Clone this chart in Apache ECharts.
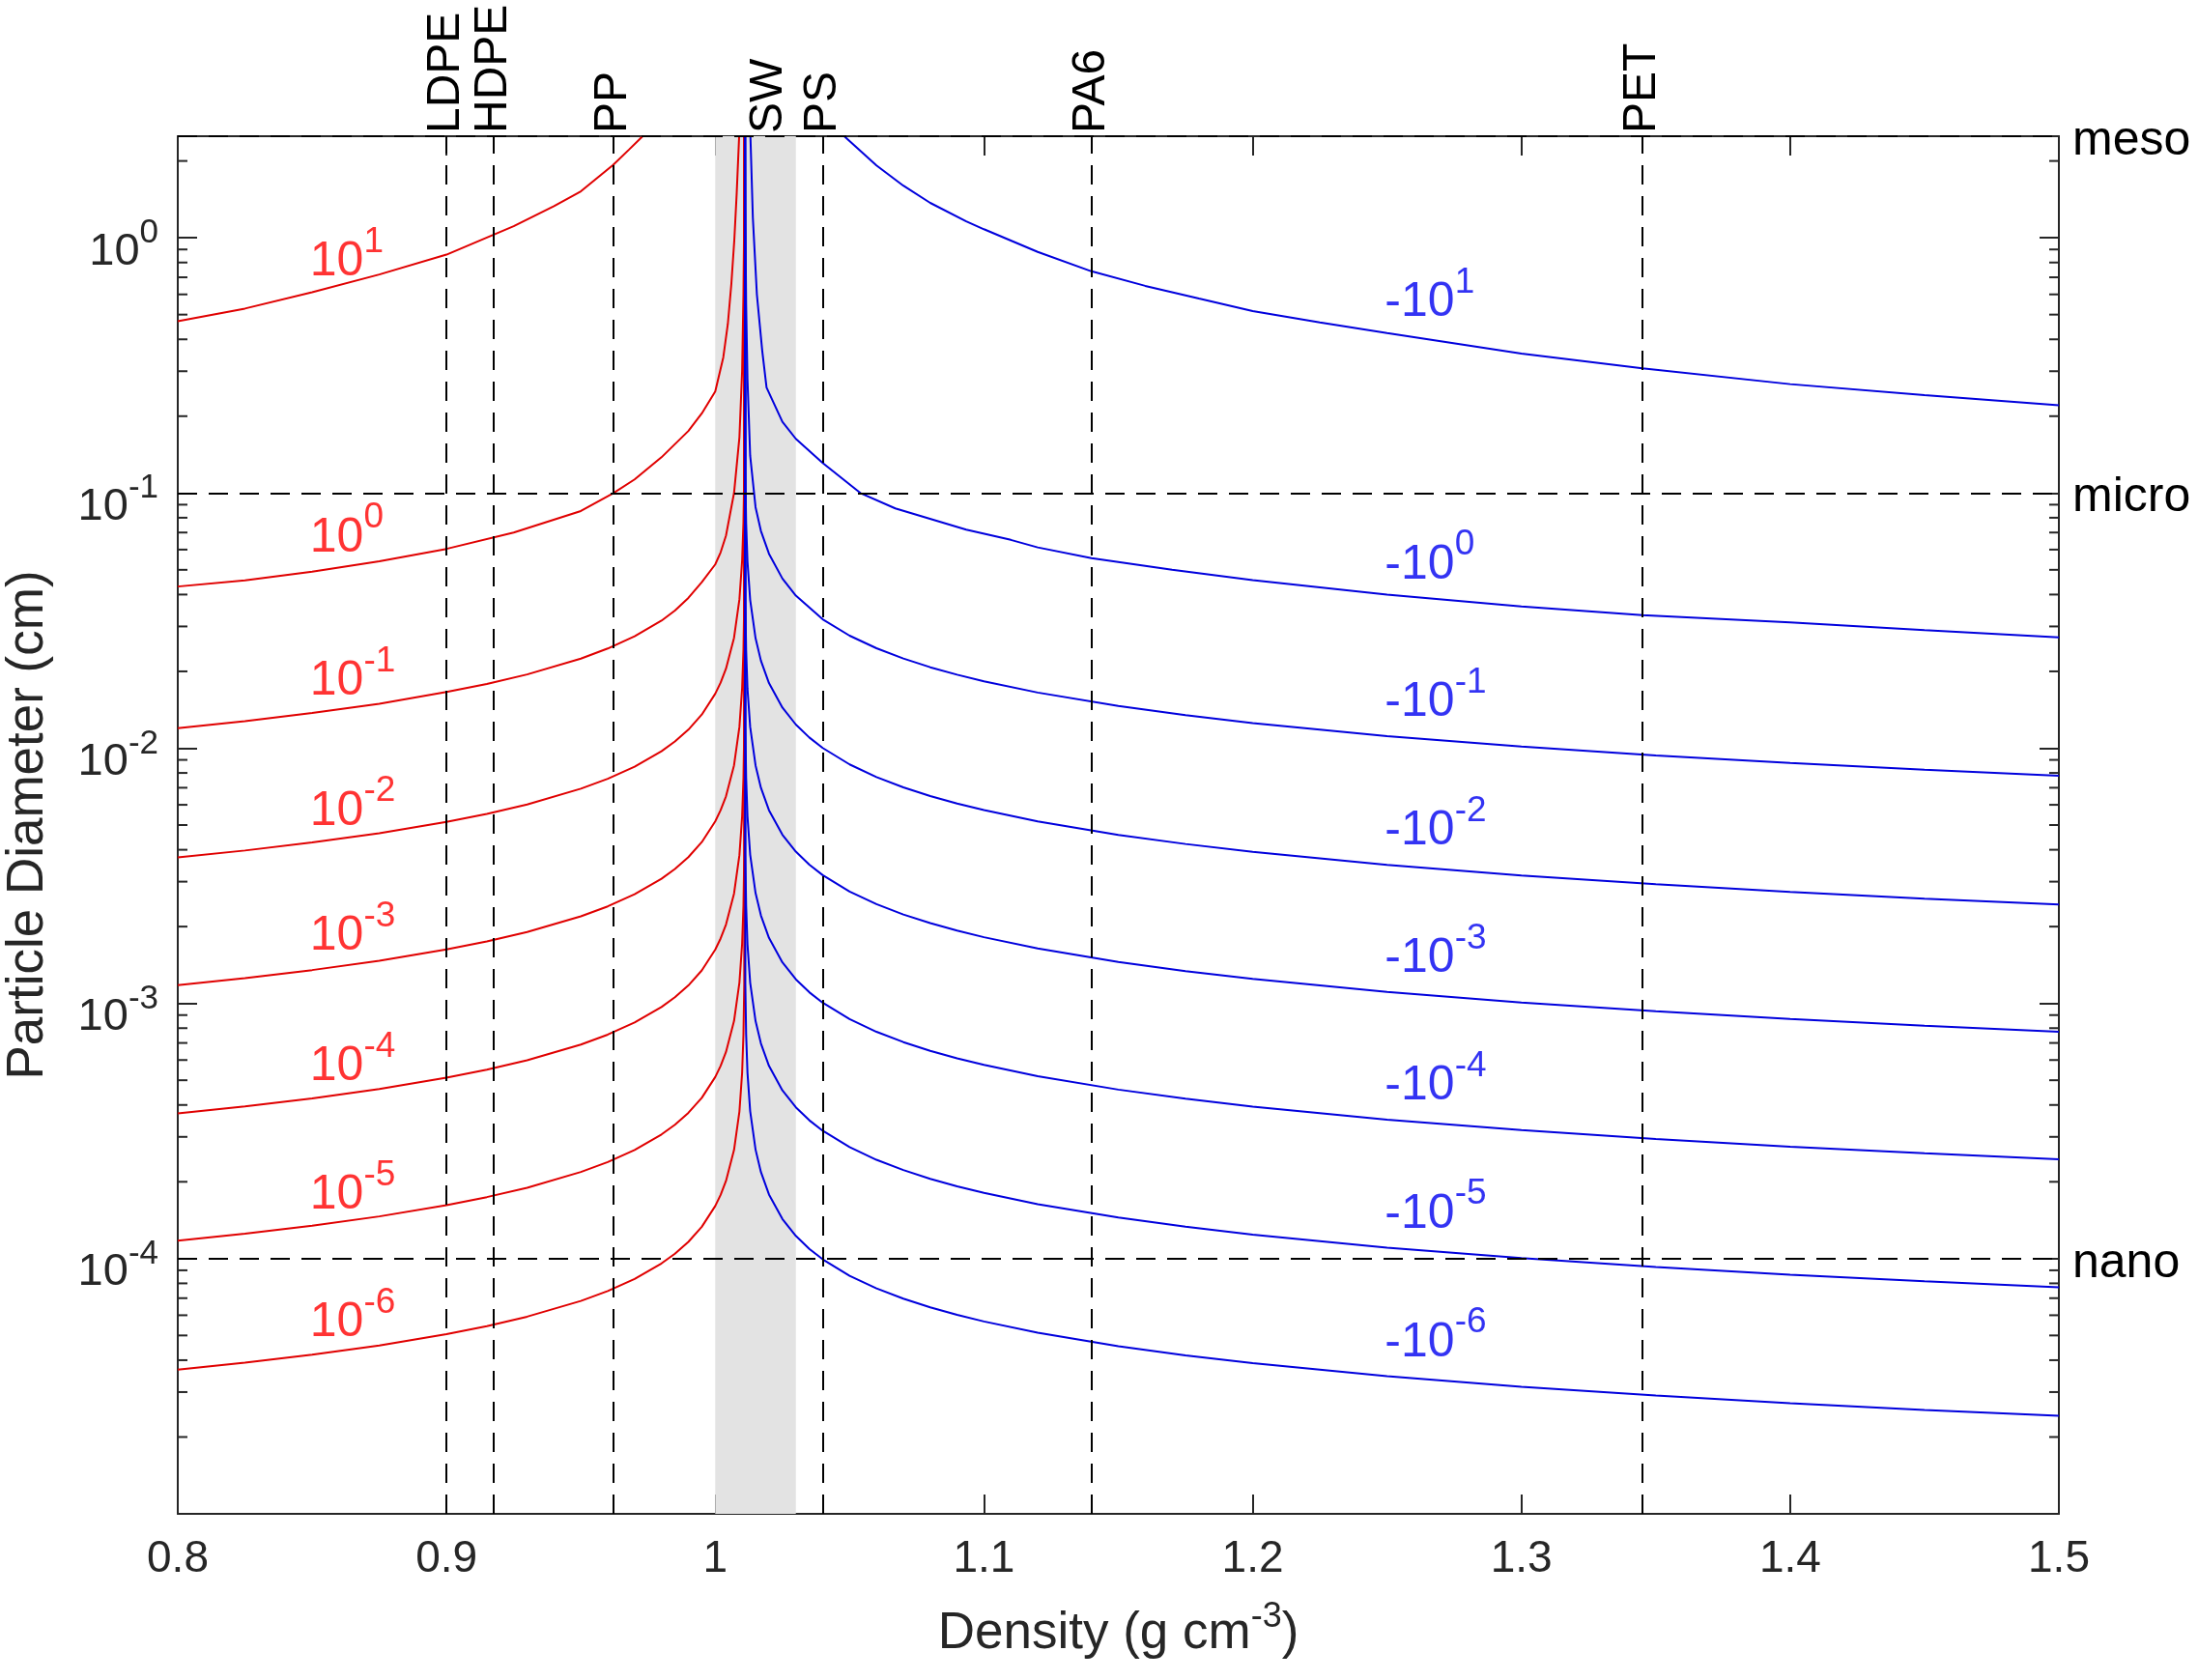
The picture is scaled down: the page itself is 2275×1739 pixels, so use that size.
<!DOCTYPE html>
<html><head><meta charset="utf-8">
<script src="https://cdn.jsdelivr.net/npm/echarts@6/dist/echarts.min.js"></script>
<style>html,body{margin:0;padding:0;background:#fff}#c{width:2275px;height:1739px}</style>
</head><body><div id="c"></div>
<script>
const FONT = '"Liberation Sans", Arial, Helvetica, sans-serif';
const AX = '#262626';
const RED_LINE = '#e00000', BLUE_LINE = '#0000dd';
const RED_TEXT = '#ff0000', BLUE_TEXT = '#0000f0';

// axes
const xMin = 0.8, xMax = 1.5, xStep = 0.1;
const yMin = 1e-5, yMax = 2.5;
const yLabelExponents = [0, -1, -2, -3, -4];

// material densities (top axis) and reference lines
const materialNames = ['LDPE', 'HDPE', 'PP', 'SW', 'PS', 'PA6', 'PET'];
const materialDensity = [0.9, 0.9175, 0.962, 1.02, 1.04, 1.14, 1.345];
const densityLines = [0.9, 0.9175, 0.962, 1.04, 1.14, 1.345];
const swBand = [1.0, 1.03];
const sizeClassNames = ['meso', 'micro', 'nano'];
const sizeClassValues = [2.5, 0.1, 1e-4];

// ---- red curves (rising, w > 0) ----
const redRho_p1 = [0.80, 0.825, 0.85, 0.875, 0.90, 0.925, 0.94, 0.95, 0.962, 0.968, 0.973];
const redD_p1   = [0.471, 0.528, 0.612, 0.718, 0.859, 1.11, 1.33, 1.52, 1.93, 2.22, 2.5];
const redRho_p0 = [0.80, 0.825, 0.85, 0.875, 0.90, 0.925, 0.95, 0.962, 0.97, 0.98, 0.99, 0.995, 1.0, 1.003, 1.0047, 1.006, 1.0071, 1.008, 1.0089];
const redD_p0   = [0.043, 0.0455, 0.0492, 0.054, 0.0604, 0.070, 0.085, 0.0997, 0.113, 0.138, 0.175, 0.205, 0.25, 0.34, 0.46, 0.66, 0.98, 1.5, 2.5];
const redRho    = [0.80, 0.825, 0.85, 0.875, 0.90, 0.915, 0.93, 0.95, 0.96, 0.97, 0.98, 0.985, 0.99, 0.995, 1.0, 1.002, 1.004, 1.007, 1.009, 1.010, 1.0105, 1.0108, 1.0109];
const redD_m1 = [0.01198, 0.01276, 0.01375, 0.01494, 0.0166, 0.01785, 0.01945, 0.02245, 0.02458, 0.02745, 0.0316, 0.0346, 0.0388, 0.0447, 0.0525, 0.0585, 0.068, 0.100, 0.165, 0.30, 0.60, 1.3, 2.5];
const redD_m2 = [3.73e-3, 3.973e-3, 4.27e-3, 4.646e-3, 5.14e-3, 5.53e-3, 6.02e-3, 6.94e-3, 7.587e-3, 8.46e-3, 9.73e-3, 1.0627e-2, 1.182e-2, 1.354e-2, 1.634e-2, 1.806e-2, 2.048e-2, 2.709e-2, 3.83e-2, 5.42e-2, 7.66e-2, 0.1212, 2.5];
const redD_m3 = [1.18e-3, 1.257e-3, 1.351e-3, 1.47e-3, 1.627e-3, 1.749e-3, 1.905e-3, 2.195e-3, 2.4e-3, 2.677e-3, 3.079e-3, 3.362e-3, 3.741e-3, 4.285e-3, 5.168e-3, 5.714e-3, 6.478e-3, 8.57e-3, 1.212e-2, 1.715e-2, 2.424e-2, 3.835e-2, 2.5];
const redD_m4 = [3.71e-4, 3.952e-4, 4.247e-4, 4.621e-4, 5.115e-4, 5.5e-4, 5.988e-4, 6.901e-4, 7.546e-4, 8.417e-4, 9.679e-4, 1.057e-3, 1.176e-3, 1.347e-3, 1.625e-3, 1.796e-3, 2.037e-3, 2.695e-3, 3.81e-3, 5.391e-3, 7.62e-3, 1.206e-2, 2.5];
const redD_m5 = [1.175e-4, 1.2515e-4, 1.345e-4, 1.4636e-4, 1.62e-4, 1.742e-4, 1.896e-4, 2.186e-4, 2.39e-4, 2.666e-4, 3.066e-4, 3.348e-4, 3.725e-4, 4.266e-4, 5.147e-4, 5.689e-4, 6.451e-4, 8.534e-4, 1.207e-3, 1.707e-3, 2.413e-3, 3.819e-3, 2.5];
const redD_m6 = [3.67e-5, 3.909e-5, 4.201e-5, 4.571e-5, 5.06e-5, 5.441e-5, 5.923e-5, 6.826e-5, 7.465e-5, 8.326e-5, 9.575e-5, 1.0456e-4, 1.163e-4, 1.333e-4, 1.607e-4, 1.777e-4, 2.015e-4, 2.666e-4, 3.769e-4, 5.333e-4, 7.538e-4, 1.193e-3, 2.5];

// ---- blue curves (sinking, w < 0) ----
const blueRho_p1 = [1.048, 1.06, 1.07, 1.08, 1.0934, 1.1, 1.12, 1.14, 1.16, 1.18, 1.2, 1.225, 1.25, 1.3, 1.345, 1.4, 1.45, 1.5];
const blueD_p1   = [2.5, 1.92, 1.60, 1.37, 1.16, 1.08, 0.88, 0.739, 0.648, 0.578, 0.516, 0.466, 0.423, 0.352, 0.308, 0.267, 0.242, 0.2205];
const blueRho_p0 = [1.0131, 1.014, 1.0155, 1.0175, 1.0191, 1.025, 1.03, 1.04, 1.054, 1.067, 1.0934, 1.11, 1.12, 1.14, 1.17, 1.2, 1.25, 1.3, 1.345, 1.4, 1.45, 1.5];
const blueD_p0   = [2.5, 1.2, 0.6, 0.36, 0.259, 0.19, 0.163, 0.131, 0.100, 0.087, 0.0718, 0.0655, 0.0612, 0.0556, 0.050, 0.0456, 0.0400, 0.0359, 0.0332, 0.0311, 0.0290, 0.0272];
const blueRho = [1.0111, 1.0112, 1.0115, 1.012, 1.013, 1.015, 1.017, 1.02, 1.025, 1.03, 1.035, 1.04, 1.05, 1.06, 1.07, 1.08, 1.09, 1.1, 1.12, 1.15, 1.175, 1.2, 1.25, 1.3, 1.35, 1.4, 1.45, 1.5];
const blueD_m1 = [2.5, 1.3, 0.55, 0.28, 0.14, 0.088, 0.071, 0.0578, 0.0462, 0.0396, 0.0356, 0.032, 0.0276, 0.02464, 0.02246, 0.02076, 0.01941, 0.01828, 0.01652, 0.01463, 0.01347, 0.01255, 0.01116, 0.01015, 0.00937, 0.00875, 0.00823, 0.0078];
const blueD_m2 = [2.5, 0.1205, 7.63e-2, 5.395e-2, 3.816e-2, 2.699e-2, 2.203e-2, 1.799e-2, 1.442e-2, 1.2378e-2, 1.1014e-2, 1.0019e-2, 8.64e-3, 7.708e-3, 7.025e-3, 6.495e-3, 6.071e-3, 5.719e-3, 5.168e-3, 4.576e-3, 4.214e-3, 3.925e-3, 3.49e-3, 3.174e-3, 2.93e-3, 2.736e-3, 2.575e-3, 2.44e-3];
const blueD_m3 = [2.5, 3.829e-2, 2.423e-2, 1.7135e-2, 1.2121e-2, 8.572e-3, 6.997e-3, 5.713e-3, 4.58e-3, 3.932e-3, 3.498e-3, 3.182e-3, 2.744e-3, 2.448e-3, 2.231e-3, 2.063e-3, 1.928e-3, 1.817e-3, 1.641e-3, 1.454e-3, 1.338e-3, 1.247e-3, 1.109e-3, 1.008e-3, 9.31e-4, 8.69e-4, 8.18e-4, 7.75e-4];
const blueD_m4 = [2.5, 1.2103e-2, 7.661e-3, 5.417e-3, 3.832e-3, 2.71e-3, 2.212e-3, 1.806e-3, 1.448e-3, 1.243e-3, 1.106e-3, 1.006e-3, 8.675e-4, 7.74e-4, 7.054e-4, 6.522e-4, 6.096e-4, 5.743e-4, 5.189e-4, 4.595e-4, 4.231e-4, 3.941e-4, 3.504e-4, 3.187e-4, 2.942e-4, 2.747e-4, 2.586e-4, 2.45e-4];
const blueD_m5 = [2.5, 3.814e-3, 2.414e-3, 1.7069e-3, 1.2074e-3, 8.538e-4, 6.9696e-4, 5.6904e-4, 4.5625e-4, 3.9164e-4, 3.485e-4, 3.1698e-4, 2.7337e-4, 2.4387e-4, 2.223e-4, 2.0551e-4, 1.921e-4, 1.8096e-4, 1.635e-4, 1.448e-4, 1.333e-4, 1.2418e-4, 1.1043e-4, 1.0042e-4, 9.272e-5, 8.656e-5, 8.148e-5, 7.72e-5];
const blueD_m6 = [2.5, 1.1955e-3, 7.567e-4, 5.351e-4, 3.785e-4, 2.6765e-4, 2.1848e-4, 1.7838e-4, 1.4302e-4, 1.2277e-4, 1.0924e-4, 9.937e-5, 8.569e-5, 7.645e-5, 6.967e-5, 6.442e-5, 6.021e-5, 5.672e-5, 5.126e-5, 4.539e-5, 4.179e-5, 3.893e-5, 3.462e-5, 3.148e-5, 2.906e-5, 2.713e-5, 2.554e-5, 2.42e-5];

// ---- curve labels ----
const labelExponents = [1, 0, -1, -2, -3, -4, -5, -6];
const redLabelX = 0.849;
const redLabelY = [0.84, 0.0695, 0.0191, 5.9e-3, 1.91e-3, 5.9e-4, 1.85e-4, 5.85e-5];
const blueLabelX = 1.249;
const blueLabelY = [0.582, 0.0546, 0.01577, 4.95e-3, 1.563e-3, 4.95e-4, 1.56e-4, 4.9e-5];

// minor log ticks (2..9 per decade)
const minorTickValues = [];
for (let k = -5; k <= 0; k++) for (let m = 2; m <= 9; m++) { const v = m * Math.pow(10, k); if (v < yMax) minorTickValues.push(v); }

const zip = (xs, ys) => xs.map((x, i) => [x, ys[i]]);
const curves = [
  [redRho_p1, redD_p1, RED_LINE], [redRho_p0, redD_p0, RED_LINE],
  [redRho, redD_m1, RED_LINE], [redRho, redD_m2, RED_LINE], [redRho, redD_m3, RED_LINE],
  [redRho, redD_m4, RED_LINE], [redRho, redD_m5, RED_LINE], [redRho, redD_m6, RED_LINE],
  [blueRho_p1, blueD_p1, BLUE_LINE], [blueRho_p0, blueD_p0, BLUE_LINE],
  [blueRho, blueD_m1, BLUE_LINE], [blueRho, blueD_m2, BLUE_LINE], [blueRho, blueD_m3, BLUE_LINE],
  [blueRho, blueD_m4, BLUE_LINE], [blueRho, blueD_m5, BLUE_LINE], [blueRho, blueD_m6, BLUE_LINE]
];

// superscript rich text: base bottom-aligned, superscript top-aligned in a taller line
const supRich = (size, supSize, lineH, supTop, color) => ({
  b: { fontSize: size, lineHeight: size, verticalAlign: 'bottom', fontFamily: FONT, color: color },
  s: { fontSize: supSize, lineHeight: lineH, padding: [supTop, 0, 0, 0], verticalAlign: 'top', fontFamily: FONT, color: color }
});

const series = [];
series.push({
  type: 'line', data: [], z: 1, silent: true,
  markArea: { silent: true, itemStyle: { color: '#e3e3e3' }, data: [[{ xAxis: swBand[0] }, { xAxis: swBand[1] }]] }
});
curves.forEach(([xs, ys, col]) => series.push({
  type: 'line', data: zip(xs, ys), showSymbol: false, symbol: 'none', z: 2, silent: true,
  lineStyle: { color: col, width: 2 }, clip: true
}));
series.push({
  type: 'line', data: [], z: 4, silent: true,
  markLine: {
    silent: true, symbol: ['none', 'none'], label: { show: false }, precision: 6,
    lineStyle: { color: '#000', width: 2, type: [20, 12] },
    data: densityLines.map(x => ({ xAxis: x })).concat(sizeClassValues.map(y => ({ yAxis: y })))
  }
});
const makeLabels = (x, ys, prefix, color) => ({
  type: 'scatter', z: 5, silent: true, symbolSize: 1, itemStyle: { color: 'rgba(0,0,0,0)' },
  data: ys.map((y, i) => ({ value: [x, y], name: prefix + '10^' + labelExponents[i] })),
  label: {
    show: true, position: 'right', distance: 0, offset: [0, -4],
    formatter: p => '{b|' + prefix + '10}{s|' + labelExponents[p.dataIndex] + '}',
    rich: supRich(50, 37, 68.5, 4, color)
  }
});
series.push(makeLabels(redLabelX, redLabelY, '', RED_TEXT));
series.push(makeLabels(blueLabelX, blueLabelY, '-', BLUE_TEXT));
series.push({
  type: 'custom', z: 6, silent: true,
  data: minorTickValues.map(v => [xMin, v]),
  renderItem: (params, api) => {
    const v = api.value(1);
    const a = api.coord([xMin, v]);
    const b = api.coord([xMax, v]);
    return { type: 'group', children: [
      { type: 'line', shape: { x1: a[0], y1: a[1], x2: a[0] + 10, y2: a[1] }, style: { stroke: AX, lineWidth: 2 } },
      { type: 'line', shape: { x1: b[0] - 10, y1: b[1], x2: b[0], y2: b[1] }, style: { stroke: AX, lineWidth: 2 } }
    ] };
  }
});

const axisLineStyle = { show: true, lineStyle: { color: AX, width: 2 } };
const tickStyle = { show: true, inside: true, length: 20, lineStyle: { color: AX, width: 2 } };

const option = {
  animation: false,
  backgroundColor: '#fff',
  grid: { left: 184, right: 144, top: 141, bottom: 172, containLabel: false, outerBoundsMode: 'none' },
  xAxis: [{
    type: 'value', position: 'bottom', min: xMin, max: xMax, interval: xStep,
    axisLine: axisLineStyle, axisTick: tickStyle, splitLine: { show: false },
    axisLabel: { fontSize: 46, color: AX, fontFamily: FONT, margin: 24 },
    name: '{n|Density (g cm}{s|-3}{n|)}', nameLocation: 'middle', nameGap: 98,
    nameTextStyle: { rich: {
      n: { fontSize: 53, lineHeight: 53, verticalAlign: 'bottom', fontFamily: FONT, color: AX },
      s: { fontSize: 36, lineHeight: 36, padding: [0, 0, 26, 0], verticalAlign: 'bottom', fontFamily: FONT, color: AX }
    } }
  }, {
    type: 'value', position: 'top', min: xMin, max: xMax, interval: xStep,
    axisLine: axisLineStyle, axisTick: tickStyle, splitLine: { show: false },
    axisLabel: {
      customValues: materialDensity, rotate: -90, margin: 3, fontSize: 48, color: '#000', fontFamily: FONT,
      formatter: v => { const i = materialDensity.findIndex(d => Math.abs(d - v) < 1e-6); return i >= 0 ? materialNames[i] : ''; }
    }
  }],
  yAxis: [{
    type: 'log', logBase: 10, position: 'left', min: yMin, max: yMax,
    axisLine: axisLineStyle, axisTick: tickStyle, splitLine: { show: false }, minorTick: { show: false },
    axisLabel: {
      margin: 20, fontSize: 47, color: AX, fontFamily: FONT,
      formatter: v => {
        const l = Math.log10(v); const e = Math.round(l);
        if (Math.abs(l - e) > 1e-6 || yLabelExponents.indexOf(e) < 0) return '';
        return '{b|10}{s|' + e + '}';
      },
      rich: supRich(47, 35, 76, 16, AX)
    },
    name: 'Particle Diameter (cm)', nameLocation: 'middle', nameGap: 128,
    nameTextStyle: { fontSize: 53, color: AX, fontFamily: FONT }
  }, {
    type: 'log', logBase: 10, position: 'right', min: yMin, max: yMax,
    axisLine: axisLineStyle, axisTick: tickStyle, splitLine: { show: false },
    axisLabel: {
      customValues: sizeClassValues, margin: 14, fontSize: 50, color: '#000', fontFamily: FONT,
      formatter: v => { const i = sizeClassValues.findIndex(s => Math.abs(s - v) / s < 1e-6); return i >= 0 ? '{m|' + sizeClassNames[i] + '}' : ''; },
      rich: { m: { fontSize: 50, fontFamily: FONT, color: '#000', padding: [10, 0, 0, 0] } }
    }
  }],
  series: series
};

const chart = echarts.init(document.getElementById('c'));
chart.setOption(option);
</script>
</body></html>
